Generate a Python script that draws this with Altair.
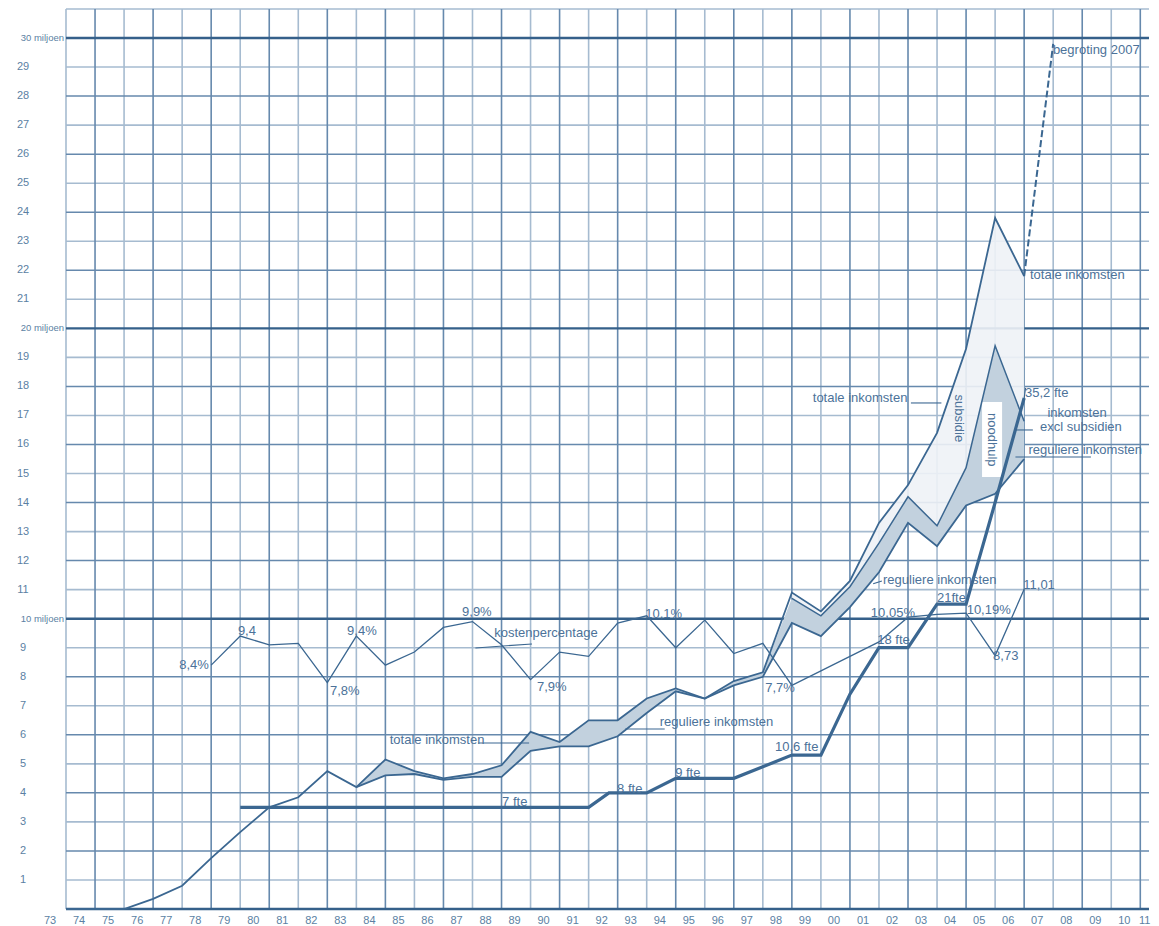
import altair as alt
import pandas as pd

# ---------------- data ----------------
YEARS = list(range(1974, 2008))
TOTAL = [0, 0, 0, 0.35, 0.8, 1.75, 2.65, 3.5, 3.85, 4.75,
         4.2, 5.15, 4.75, 4.5, 4.65, 4.95, 6.1, 5.75, 6.5, 6.5,
         7.25, 7.6, 7.25, 7.85, 8.15, 10.9, 10.25, 11.3, 13.3, 14.6,
         16.4, 19.3, 23.8, 21.8]

REG_YEARS = list(range(1984, 2008))
REGULAR = [4.2, 4.6, 4.65, 4.45, 4.55, 4.55, 5.45, 5.6, 5.6, 5.95,
           6.75, 7.5, 7.25, 7.7, 8.0, 9.85, 9.4, 10.4, 11.6, 13.3,
           12.5, 13.9, 14.3, 15.5]

EXCL_YEARS = list(range(1999, 2008))
EXCL = [10.7, 10.1, 11.1, 12.6, 14.2, 13.2, 15.2, 19.4, 16.8]

BUDGET_YEARS = [2007, 2008]
BUDGET = [21.8, 29.8]

FTE_YEARS = [1980, 1992, 1992.7, 1994, 1995, 1997, 1998, 1999, 2000,
             2001, 2002, 2003, 2004, 2005, 2006, 2007]
FTE = [7, 7, 8, 8, 9, 9, 9.8, 10.6, 10.6, 14.8, 18, 18, 21, 21, 28, 35.2]

KOST_YEARS = list(range(1979, 2008))
KOST = [8.4, 9.4, 9.1, 9.15, 7.8, 9.4, 8.4, 8.85, 9.7, 9.9,
        9.1, 7.9, 8.85, 8.7, 9.85, 10.1, 9.0, 9.95, 8.8, 9.15,
        7.7, 8.2, 8.7, 9.2, 10.05, 10.15, 10.19, 8.73, 11.01]

X_LABEL_YEARS = list(range(1973, 2012))
Y_TICKS = list(range(1, 30))
MILJOEN = [10, 20, 30]

# annotations
ANN_TEXT = ["totale inkomsten", "reguliere inkomsten", "kostenpercentage",
            "totale inkomsten", "35,2 fte", "inkomsten", "excl subsidien",
            "reguliere inkomsten", "reguliere inkomsten", "totale inkomsten",
            "begroting 2007", "10,05%", "10,19%", "21fte", "18 fte", "8,73",
            "11,01", "7,7%", "10,6 fte", "9 fte", "8 fte", "7 fte", "9,9%",
            "10,1%", "7,9%", "8,4%", "9,4", "9,4%", "7,8%"]
ANN_X = [1985.15, 1994.45, 1988.75, 1999.72, 2007.03, 2007.8, 2007.55,
         2007.15, 2002.14, 2007.2, 2007.99, 2001.72, 2005.02, 2004.0,
         2001.94, 2005.93, 2006.97, 1998.08, 1998.42, 1994.98, 1992.98,
         1989.02, 1987.64, 1993.95, 1990.22, 1977.9, 1979.92, 1983.68, 1983.09]
ANN_Y = [5.82, 6.44, 9.51, 17.6, 17.78, 17.1, 16.6, 15.82, 11.33, 21.84,
         29.6, 10.2, 10.3, 10.72, 9.27, 8.7, 11.16, 7.62, 5.58, 4.68, 4.15,
         3.68, 10.22, 10.15, 7.66, 8.4, 9.56, 9.56, 7.52]

ROT_TEXT = ["subsidie", "noodhulp"]
ROT_X = [2004.76, 2005.9]
ROT_Y = [16.9, 16.16]

BOX_X = [2005.55]
BOX_X2 = [2006.24]
BOX_Y = [14.88]
BOX_Y2 = [17.46]

LEAD_X1 = [1988.2, 1993.26, 1988.1, 2003.1, 2006.7, 2006.7, 2001.8, 2007.0]
LEAD_X2 = [1989.95, 1994.62, 1990.05, 2004.15, 2007.3, 2009.3, 2002.1, 2007.05]
LEAD_Y1 = [5.72, 6.2, 8.99, 17.43, 16.5, 15.57, 11.2, 17.6]
LEAD_Y2 = [5.72, 6.2, 9.13, 17.43, 16.5, 15.57, 11.3, 17.95]

# ---------------- styling ----------------
LINE = "#3b6791"
TXT = "#4c7299"
GRID_DARK = "#6689ad"
GRID_LIGHT = "#a6bbd0"
GRID_MAJOR = "#35608a"
FONT = "Liberation Sans"

XS = alt.Scale(domain=[1974, 2011.3], nice=False, zero=False)
YS = alt.Scale(domain=[0, 31], nice=False, zero=False)


def X(f):
    return alt.X(f, type="quantitative", scale=XS, axis=None)


def Y(f):
    return alt.Y(f, type="quantitative", scale=YS, axis=None)


# ---------------- tables ----------------
total_df = pd.DataFrame({"year": YEARS, "v": TOTAL})
reg_df = pd.DataFrame({"year": REG_YEARS, "v": REGULAR})
excl_df = pd.DataFrame({"year": EXCL_YEARS, "v": EXCL})
budget_df = pd.DataFrame({"year": BUDGET_YEARS, "v": BUDGET})
fte_df = pd.DataFrame({"year": FTE_YEARS, "fte": FTE})
kost_df = pd.DataFrame({"year": KOST_YEARS, "v": KOST})

tot_map = dict(zip(YEARS, TOTAL))
excl_map = dict(zip(EXCL_YEARS, EXCL))
band_df = pd.DataFrame({
    "year": REG_YEARS,
    "hi": [excl_map.get(y, tot_map[y]) for y in REG_YEARS],
    "lo": REGULAR,
})
light_df = pd.DataFrame({
    "year": EXCL_YEARS,
    "hi": [tot_map[y] for y in EXCL_YEARS],
    "lo": EXCL,
})

vgrid = pd.DataFrame({"year": list(range(1974, 2012))})
vgrid["dark"] = vgrid["year"] % 2 == 1
hgrid = pd.DataFrame({"v": list(range(0, 32))})
hgrid["kind"] = ["major" if v % 10 == 0 else ("dark" if v % 2 == 0 else "light")
                 for v in hgrid["v"]]

xlab_df = pd.DataFrame({"year": [min(y + 0.45, 2011.15) for y in X_LABEL_YEARS],
                        "lab": ["%02d" % (y % 100) for y in X_LABEL_YEARS]})
ylab_df = pd.DataFrame({"v": [t for t in Y_TICKS if t % 10 != 0]})
ylab_df["lab"] = ylab_df["v"].astype(str)
ymil_df = pd.DataFrame({"v": MILJOEN, "lab": ["%d miljoen" % m for m in MILJOEN]})

ann_df = pd.DataFrame({"year": ANN_X, "v": ANN_Y, "t": ANN_TEXT})
rot_df = pd.DataFrame({"year": ROT_X, "v": ROT_Y, "t": ROT_TEXT})
box_df = pd.DataFrame({"x": BOX_X, "x2": BOX_X2, "y": BOX_Y, "y2": BOX_Y2})
lead_df = pd.DataFrame({"x": LEAD_X1, "x2": LEAD_X2, "y": LEAD_Y1, "y2": LEAD_Y2})

# ---------------- layers ----------------
grid_v_light = alt.Chart(vgrid[~vgrid["dark"]]).mark_rule(
    color=GRID_LIGHT, strokeWidth=1.6).encode(x=X("year"))
grid_v_dark = alt.Chart(vgrid[vgrid["dark"]]).mark_rule(
    color=GRID_DARK, strokeWidth=1.6).encode(x=X("year"))
grid_h_light = alt.Chart(hgrid[hgrid["kind"] == "light"]).mark_rule(
    color=GRID_LIGHT, strokeWidth=1.6).encode(y=Y("v"))
grid_h_dark = alt.Chart(hgrid[hgrid["kind"] == "dark"]).mark_rule(
    color=GRID_DARK, strokeWidth=1.5).encode(y=Y("v"))
grid_h_major = alt.Chart(hgrid[hgrid["kind"] == "major"]).mark_rule(
    color=GRID_MAJOR, strokeWidth=2.4).encode(y=Y("v"))

light_area = alt.Chart(light_df).mark_area(
    color="#eef2f6", opacity=0.9).encode(x=X("year"), y=Y("hi"), y2="lo")
band_area = alt.Chart(band_df).mark_area(
    color="#c2d1de", opacity=1).encode(x=X("year"), y=Y("hi"), y2="lo")

box = alt.Chart(box_df).mark_rect(color="white").encode(
    x=X("x"), x2="x2", y=Y("y"), y2="y2")

total_line = alt.Chart(total_df).mark_line(color=LINE, strokeWidth=1.8).encode(
    x=X("year"), y=Y("v"))
reg_line = alt.Chart(reg_df).mark_line(color=LINE, strokeWidth=1.8).encode(
    x=X("year"), y=Y("v"))
excl_line = alt.Chart(excl_df).mark_line(color=LINE, strokeWidth=1.5).encode(
    x=X("year"), y=Y("v"))
budget_line = alt.Chart(budget_df).mark_line(
    color=LINE, strokeWidth=2, strokeDash=[7, 3]).encode(x=X("year"), y=Y("v"))
fte_line = alt.Chart(fte_df).transform_calculate(v="datum.fte / 2").mark_line(
    color=LINE, strokeWidth=3.2).encode(x=X("year"), y=Y("v"))
kost_line = alt.Chart(kost_df).mark_line(color=LINE, strokeWidth=1.3).encode(
    x=X("year"), y=Y("v"))

leads = alt.Chart(lead_df).mark_rule(color=LINE, strokeWidth=1.1).encode(
    x=X("x"), x2="x2", y=Y("y"), y2="y2")

ann = alt.Chart(ann_df).mark_text(
    align="left", baseline="middle", font=FONT, fontSize=13, color=TXT
).encode(x=X("year"), y=Y("v"), text="t:N")

rot = alt.Chart(rot_df).mark_text(
    align="center", baseline="middle", font=FONT, fontSize=13, color=TXT, angle=90
).encode(x=X("year"), y=Y("v"), text="t:N")

xlabels = alt.Chart(xlab_df).mark_text(
    align="center", baseline="middle", font=FONT, fontSize=11, color="#5b7fa3"
).encode(x=X("year"), y=alt.value(912), text="lab:N")

ylabels = alt.Chart(ylab_df).mark_text(
    align="center", baseline="middle", font=FONT, fontSize=11, color="#5b7fa3"
).encode(y=Y("v"), x=alt.value(-43), text="lab:N")

ymil = alt.Chart(ymil_df).mark_text(
    align="right", baseline="middle", font=FONT, fontSize=9.5, color="#5b7fa3"
).encode(y=Y("v"), x=alt.value(-2), text="lab:N")

chart = alt.layer(
    grid_v_light, grid_h_light, grid_v_dark, grid_h_dark, grid_h_major,
    light_area, band_area, box,
    total_line, reg_line, excl_line, budget_line, kost_line, fte_line,
    leads, ann, rot, xlabels, ylabels, ymil,
).properties(
    width=1083, height=900,
    autosize=alt.AutoSizeParams(type="none"),
    padding={"left": 58, "top": 1, "right": 2, "bottom": 16},
    background="white",
).configure_view(stroke=None)

chart.save("out.html", embed_options={"renderer": "svg", "actions": False})
